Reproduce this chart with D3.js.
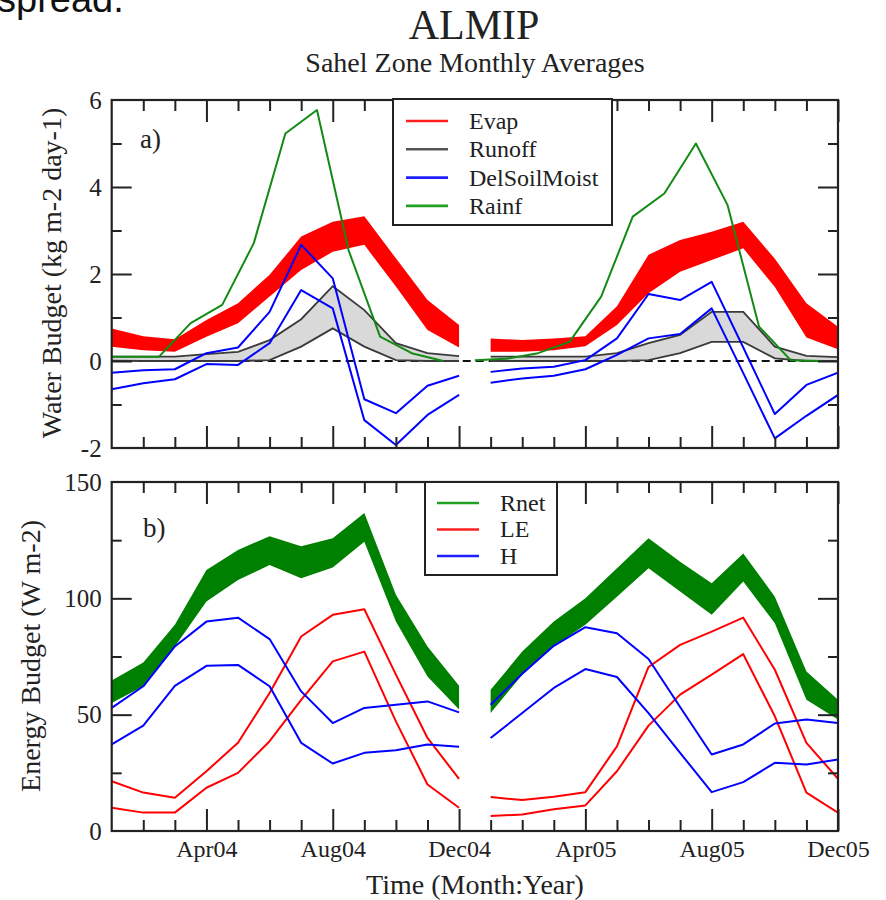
<!DOCTYPE html>
<html>
<head>
<meta charset="utf-8">
<script src="https://cdn.jsdelivr.net/npm/d3@7/dist/d3.min.js"></script>
<style>
html,body{margin:0;padding:0;background:#fff;}
svg{display:block;}
text{font-family:"Liberation Serif","Times New Roman",serif;fill:#222;}
</style>
</head>
<body>
<svg id="chart" width="886" height="900"></svg>
<script>
// ---------- DATA ----------
const months = ["Jan04","Feb04","Mar04","Apr04","May04","Jun04","Jul04","Aug04","Sep04","Oct04","Nov04","Dec04",
                "Jan05","Feb05","Mar05","Apr05","May05","Jun05","Jul05","Aug05","Sep05","Oct05","Nov05","Dec05"];
const xTickLabels = ["Apr04","Aug04","Dec04","Apr05","Aug05","Dec05"];
const waterTicks = [-2,0,2,4,6];
const energyTicks = [0,50,100,150];

// panel a) water budget (kg m-2 day-1), upper / lower envelope of the model spread
const evapHi   = [0.75,0.57,0.50,0.94,1.33,1.98,2.86,3.20,3.33,2.36,1.40,0.83, 0.52,0.48,0.52,0.57,1.26,2.44,2.78,2.97,3.20,2.35,1.33,0.79];
const evapLo   = [0.33,0.25,0.21,0.56,0.87,1.48,2.09,2.51,2.67,1.71,0.71,0.31, 0.21,0.21,0.25,0.34,0.83,1.56,2.05,2.32,2.59,1.70,0.54,0.27];
const runoffHi = [0.10,0.10,0.10,0.16,0.21,0.48,0.96,1.72,1.17,0.41,0.18,0.11, 0.10,0.10,0.10,0.10,0.18,0.41,0.60,1.13,1.13,0.33,0.12,0.09];
const runoffLo = [0.01,0.00,0.00,0.00,0.00,0.02,0.33,0.75,0.33,0.02,0.00,0.00, 0.00,0.00,0.00,0.00,0.00,0.02,0.18,0.44,0.44,0.06,0.00,0.00];
const dsmHi    = [-0.27,-0.21,-0.19,0.18,0.31,1.13,2.67,1.90,-0.88,-1.20,-0.57,-0.34, -0.25,-0.17,-0.13,0.02,0.52,1.54,1.40,1.82,0.31,-1.22,-0.55,-0.27];
const dsmLo    = [-0.65,-0.51,-0.42,-0.07,-0.09,0.41,1.63,1.21,-1.36,-1.93,-1.24,-0.78, -0.50,-0.40,-0.34,-0.19,0.14,0.52,0.62,1.21,-0.28,-1.78,-1.26,-0.78];
const rainf    = [0.10,0.10,0.10,0.87,1.29,2.71,5.23,5.77,2.55,0.56,0.18,0.00, 0.02,0.05,0.18,0.44,1.48,3.32,3.85,5.00,3.59,0.79,0.02,0.00];

// panel b) energy budget (W m-2)
const rnetHi = [64.7,72.4,88.6,112.2,120.8,126.7,122.4,125.8,136.7,101.5,79.3,62.4, 60.7,77.1,90.0,100.0,112.9,125.8,115.7,106.5,119.3,100.7,68.6,56.4];
const rnetLo = [55.0,62.2,79.3,98.6,107.9,114.3,108.6,113.3,124.3,90.0,66.4,52.2, 50.7,67.2,79.3,88.6,100.7,112.9,102.9,92.9,107.2,89.3,56.4,47.9];
const leHi   = [21.4,16.5,14.3,25.7,37.9,59.3,83.6,92.9,95.3,67.2,40.0,22.4, 14.6,13.3,14.7,16.7,36.4,70.5,80.0,85.7,91.7,69.3,37.9,22.4];
const leLo   = [10.0,7.9,7.9,18.6,25.0,38.6,56.4,72.9,77.1,47.1,20.0,10.0, 6.4,7.1,9.3,11.0,25.7,45.3,58.6,67.2,76.0,49.3,16.5,7.9];
const hHi    = [52.9,62.2,79.3,90.0,91.7,82.5,60.0,46.4,52.9,54.3,55.7,51.0, 54.3,67.6,79.6,87.6,85.0,73.9,53.3,32.9,37.2,46.2,47.9,46.4];
const hLo    = [37.2,45.3,62.4,71.0,71.4,62.2,37.9,29.0,33.6,34.7,37.2,36.2, 40.0,50.7,61.5,69.6,66.2,50.7,33.6,16.7,21.0,29.3,28.6,30.7];

const legendA = ["Evap","Runoff","DelSoilMoist","Rainf"];
const legendB = ["Rnet","LE","H"];

// ---------- LAYOUT ----------
const C = {red:"#ff0000", blue:"#0000ff", green:"#138a13", rnet:"#008000", grayFill:"#d9d9d9", grayLine:"#3a3a3a", frame:"#222"};
const SERIF = "'Liberation Serif','Times New Roman',serif";
const svg = d3.select("#chart");
svg.append("rect").attr("width",886).attr("height",900).attr("fill","#fff");

const x = d3.scaleLinear().domain([0, months.length-1]).range([111.7, 838]);
const yA = d3.scaleLinear().domain([-2,6]).range([448,100]);
const yB = d3.scaleLinear().domain([0,150]).range([831,482]);

const idx = d3.range(months.length);
const years = [idx.slice(0,12), idx.slice(12,24)];
const majorX = xTickLabels.map(l => months.indexOf(l));
const minorX = idx.filter(i => i>0 && i<months.length-1 && !majorX.includes(i));

// title
svg.append("text").attr("x",474).attr("y",39).attr("text-anchor","middle").style("font-size","42px").text("ALMIP");
svg.append("text").attr("x",475).attr("y",72).attr("text-anchor","middle").style("font-size","28px").text("Sahel Zone Monthly Averages");
// slide text remnant (cut at the top edge, as in the reference)
svg.append("text").attr("x",-3).attr("y",12).style("font-family","'Liberation Sans',Arial,sans-serif").style("font-size","38px").style("fill","#111").text("spread.");

function clip(id, y){
  svg.append("clipPath").attr("id",id).append("rect")
    .attr("x",x.range()[0]).attr("y",y.range()[1])
    .attr("width",x.range()[1]-x.range()[0]).attr("height",y.range()[0]-y.range()[1]);
}
clip("clipA", yA); clip("clipB", yB);

function band(g, y, hi, lo, fill, stroke){
  years.forEach(seg => {
    g.append("path").datum(seg)
      .attr("d", d3.area().x(i=>x(i)).y0(i=>y(lo[i])).y1(i=>y(hi[i])))
      .attr("fill", fill).attr("stroke","none");
    if (stroke){
      [hi,lo].forEach(arr => g.append("path").datum(seg)
        .attr("d", d3.line().x(i=>x(i)).y(i=>y(arr[i])))
        .attr("fill","none").attr("stroke",stroke).attr("stroke-width",1.8));
    }
  });
}
function lines(g, y, arr, color, shift){
  years.forEach(seg => g.append("path").datum(seg)
    .attr("d", d3.line().x(i=>x(i+(shift||0))).y(i=>y(arr[i])))
    .attr("fill","none").attr("stroke",color).attr("stroke-width",2).attr("stroke-linejoin","round"));
}

function axes(y, majorY, minorY, showX){
  const g = svg.append("g");
  const top = y.range()[1], bot = y.range()[0];
  const styleAxis = sel => {
    sel.attr("font-family", SERIF);
    sel.select(".domain").remove();
    sel.selectAll("line").attr("stroke",C.frame).attr("stroke-width",2);
    sel.selectAll("text").style("font-family",SERIF).attr("fill","#222");
  };
  // x bottom
  g.append("g").attr("transform",`translate(0,${bot})`)
    .call(d3.axisBottom(x).tickValues(majorX).tickSizeInner(-22).tickSizeOuter(0).tickPadding(showX?9:0)
      .tickFormat(showX ? (i=>months[i]) : ""))
    .call(styleAxis)
    .call(s => s.selectAll("text").style("font-size","24px"));
  g.append("g").attr("transform",`translate(0,${bot})`)
    .call(d3.axisBottom(x).tickValues(minorX).tickSizeInner(-11).tickSizeOuter(0).tickFormat("")).call(styleAxis);
  // x top
  g.append("g").attr("transform",`translate(0,${top})`)
    .call(d3.axisTop(x).tickValues(majorX).tickSizeInner(-22).tickSizeOuter(0).tickFormat("")).call(styleAxis);
  g.append("g").attr("transform",`translate(0,${top})`)
    .call(d3.axisTop(x).tickValues(minorX).tickSizeInner(-11).tickSizeOuter(0).tickFormat("")).call(styleAxis);
  // y left
  const inner = majorY.filter(v => v!==y.domain()[0] && v!==y.domain()[1]);
  g.append("g").attr("transform",`translate(${x.range()[0]},0)`)
    .call(d3.axisLeft(y).tickValues(majorY).tickSize(0).tickPadding(10).tickFormat(v => String(v))).call(styleAxis)
    .call(s => s.selectAll("text").style("font-size","25px"));
  g.append("g").attr("transform",`translate(${x.range()[0]},0)`)
    .call(d3.axisLeft(y).tickValues(inner).tickSizeInner(-20).tickSizeOuter(0).tickFormat("")).call(styleAxis);
  g.append("g").attr("transform",`translate(${x.range()[0]},0)`)
    .call(d3.axisLeft(y).tickValues(minorY).tickSizeInner(-10).tickSizeOuter(0).tickFormat("")).call(styleAxis);
  // y right
  g.append("g").attr("transform",`translate(${x.range()[1]},0)`)
    .call(d3.axisRight(y).tickValues(inner).tickSizeInner(-20).tickSizeOuter(0).tickFormat("")).call(styleAxis);
  g.append("g").attr("transform",`translate(${x.range()[1]},0)`)
    .call(d3.axisRight(y).tickValues(minorY).tickSizeInner(-10).tickSizeOuter(0).tickFormat("")).call(styleAxis);
  // frame
  g.append("rect").attr("x",x.range()[0]).attr("y",top).attr("width",x.range()[1]-x.range()[0]).attr("height",bot-top)
    .attr("fill","none").attr("stroke",C.frame).attr("stroke-width",2.2);
}

// ---------- PANEL A ----------
const gA = svg.append("g").attr("clip-path","url(#clipA)");
gA.append("line").attr("x1",x.range()[0]).attr("x2",x.range()[1]).attr("y1",yA(0)).attr("y2",yA(0))
  .attr("stroke","#111").attr("stroke-width",2).attr("stroke-dasharray","8,5");
band(gA, yA, evapHi, evapLo, C.red, null);
band(gA, yA, runoffHi, runoffLo, C.grayFill, C.grayLine);
lines(gA, yA, dsmHi, C.blue);
lines(gA, yA, dsmLo, C.blue);
lines(gA, yA, rainf, C.green, -0.5);
axes(yA, waterTicks, [-1,1,3,5], false);
svg.append("text").attr("x",140).attr("y",148).style("font-size","27px").text("a)");

// legend A
const legA = svg.append("g");
legA.append("rect").attr("x",393).attr("y",99).attr("width",219).attr("height",126).attr("fill","#fff").attr("stroke",C.frame).attr("stroke-width",2);
const colA = ["#ff2020","#555","#2020ff","#22a022"];
legendA.forEach((name,k) => {
  const yy = 121 + k*28.3;
  legA.append("line").attr("x1",406).attr("x2",448).attr("y1",yy).attr("y2",yy).attr("stroke",colA[k]).attr("stroke-width",2.6);
  legA.append("text").attr("x",469).attr("y",yy).attr("dy","0.33em").style("font-size","24px").text(name);
});

// ---------- PANEL B ----------
const gB = svg.append("g").attr("clip-path","url(#clipB)");
band(gB, yB, rnetHi, rnetLo, C.rnet, null);
lines(gB, yB, leHi, C.red);
lines(gB, yB, leLo, C.red);
lines(gB, yB, hHi, C.blue);
lines(gB, yB, hLo, C.blue);
axes(yB, energyTicks, [25,75,125], true);
svg.append("text").attr("x",143).attr("y",537).style("font-size","27px").text("b)");

const legB = svg.append("g");
legB.append("rect").attr("x",425).attr("y",482).attr("width",132).attr("height",93).attr("fill","#fff").attr("stroke",C.frame).attr("stroke-width",2);
const colB = ["#22a022","#ff2020","#2020ff"];
legendB.forEach((name,k) => {
  const yy = 503 + k*26.5;
  legB.append("line").attr("x1",437).attr("x2",479).attr("y1",yy).attr("y2",yy).attr("stroke",colB[k]).attr("stroke-width",2.6);
  legB.append("text").attr("x",500).attr("y",yy).attr("dy","0.33em").style("font-size","24px").text(name);
});

// axis titles
svg.append("text").attr("transform","translate(61,273) rotate(-90)").attr("text-anchor","middle").style("font-size","28px").text("Water Budget (kg m-2 day-1)");
svg.append("text").attr("transform","translate(40,656) rotate(-90)").attr("text-anchor","middle").style("font-size","28px").text("Energy Budget (W m-2)");
svg.append("text").attr("x",475).attr("y",894).attr("text-anchor","middle").style("font-size","28px").text("Time (Month:Year)");
</script>
</body>
</html>
